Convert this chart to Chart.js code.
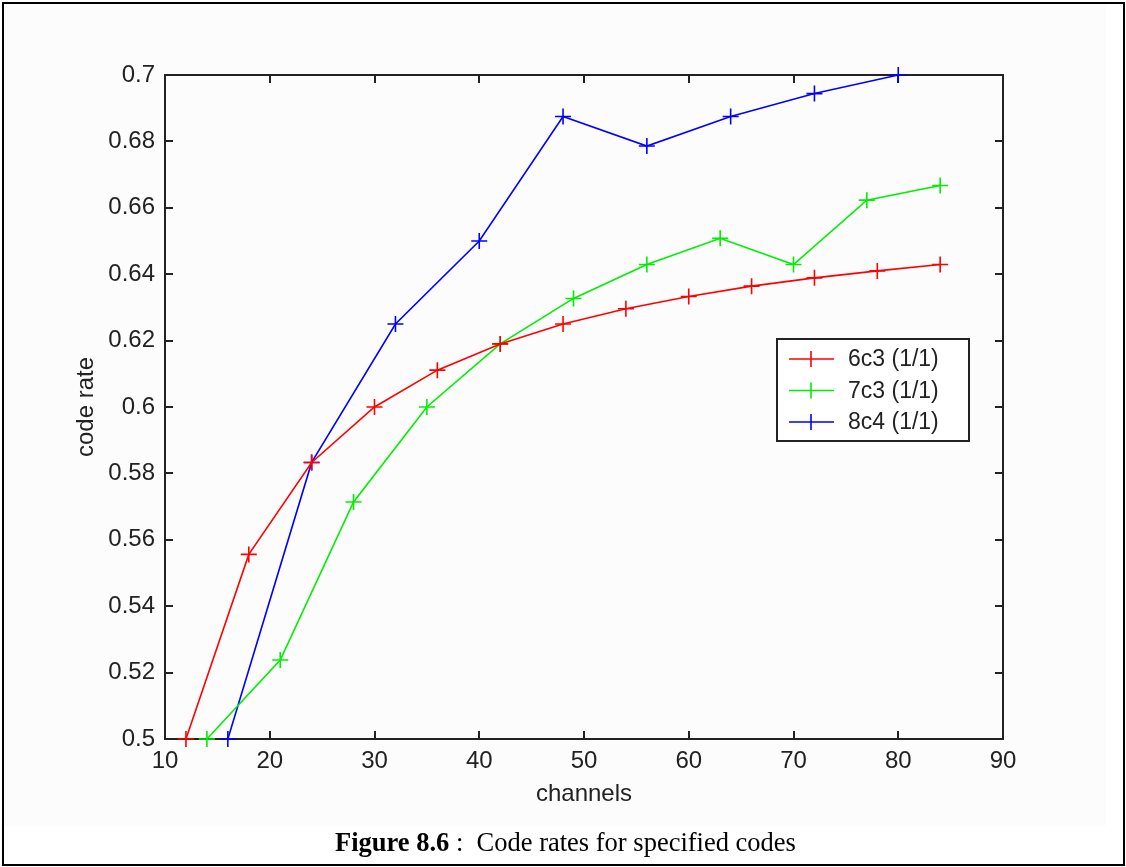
<!DOCTYPE html>
<html>
<head>
<meta charset="utf-8">
<title>Code rates for specified codes</title>
<script src="https://cdn.jsdelivr.net/npm/chart.js@4.4.1/dist/chart.umd.min.js"></script>
<style>
  html, body { margin: 0; padding: 0; background: #ffffff; }
  #page { position: relative; width: 1126px; height: 867px; overflow: hidden; }
  #figbg { position: absolute; left: 4px; top: 4px; width: 1102px; height: 822px; background: #fcfcfc; }
  #chart { position: absolute; left: 0; top: 0; }
  #frame { position: absolute; left: 2px; top: 2px; width: 1119px; height: 860px; border: 2px solid #000; pointer-events: none; }
  #caption { position: absolute; left: 335px; top: 826px; font-family: "Liberation Serif", "Times New Roman", serif;
             font-size: 26.5px; line-height: 32px; color: #000; white-space: pre; }
  #caption b { font-weight: bold; }
</style>
</head>
<body>
<div id="page">
  <div id="figbg"></div>
  <canvas id="chart" width="1126" height="867"></canvas>
  <div id="caption"><b>Figure 8.6</b> :  Code rates for specified codes</div>
  <div id="frame"></div>
</div>
<script>
// Channel counts and code rates for each code family
const channels6c3 = [12, 18, 24, 30, 36, 42, 48, 54, 60, 66, 72, 78, 84];
const rate6c3     = [0.5, 0.5556, 0.5833, 0.6, 0.6111, 0.619, 0.625, 0.6296, 0.6333, 0.6364, 0.6389, 0.641, 0.6429];

const channels7c3 = [14, 21, 28, 35, 42, 49, 56, 63, 70, 77, 84];
const rate7c3     = [0.5, 0.5238, 0.5714, 0.6, 0.619, 0.6327, 0.6429, 0.6508, 0.6429, 0.6623, 0.6667];

const channels8c4 = [16, 24, 32, 40, 48, 56, 64, 72, 80];
const rate8c4     = [0.5, 0.5833, 0.625, 0.65, 0.6875, 0.6786, 0.6875, 0.6944, 0.7];

const seriesNames = ['6c3 (1/1)', '7c3 (1/1)', '8c4 (1/1)'];
const xTicks = [10, 20, 30, 40, 50, 60, 70, 80, 90];
const yTicks = [0.5, 0.52, 0.54, 0.56, 0.58, 0.6, 0.62, 0.64, 0.66, 0.68, 0.7];
const xTitle = 'channels';
const yTitle = 'code rate';

const FONT = '"Liberation Sans", Arial, Helvetica, sans-serif';
const INK = '#222222';

function toPoints(xs, ys) {
  return xs.map((x, i) => ({ x: x, y: ys[i] }));
}

function series(label, xs, ys, color) {
  return {
    label: label,
    data: toPoints(xs, ys),
    borderColor: color,
    backgroundColor: color,
    borderWidth: 1.6,
    pointStyle: 'cross',
    pointRadius: 8,
    pointHoverRadius: 8,
    pointBorderWidth: 1.6,
    pointBorderColor: color,
    tension: 0,
    fill: false,
    clip: false
  };
}

// Axes box with inward ticks on all four sides, plus axis titles and legend
const boxPlugin = {
  id: 'matlabBox',
  beforeDatasetsDraw(chart) {
    const { ctx, chartArea: a, scales } = chart;
    const tl = 8;
    ctx.save();
    ctx.strokeStyle = INK;
    ctx.lineWidth = 2;
    ctx.strokeRect(a.left, a.top, a.right - a.left, a.bottom - a.top);
    ctx.beginPath();
    scales.x.ticks.forEach(t => {
      const px = Math.round(scales.x.getPixelForValue(t.value));
      if (px <= a.left + 1 || px >= a.right - 1) return;
      ctx.moveTo(px, a.bottom); ctx.lineTo(px, a.bottom - tl);
      ctx.moveTo(px, a.top);    ctx.lineTo(px, a.top + tl);
    });
    scales.y.ticks.forEach(t => {
      const py = Math.round(scales.y.getPixelForValue(t.value));
      if (py <= a.top + 1 || py >= a.bottom - 1) return;
      ctx.moveTo(a.left, py);  ctx.lineTo(a.left + tl, py);
      ctx.moveTo(a.right, py); ctx.lineTo(a.right - tl, py);
    });
    ctx.stroke();

    ctx.fillStyle = INK;
    ctx.font = '24px ' + FONT;
    ctx.textAlign = 'center';
    ctx.textBaseline = 'middle';
    ctx.fillText(xTitle, (a.left + a.right) / 2, 794);
    ctx.translate(86, (a.top + a.bottom) / 2);
    ctx.rotate(-Math.PI / 2);
    ctx.fillText(yTitle, 0, 0);
    ctx.restore();
  },
  afterDraw(chart) {
    const { ctx } = chart;
    const bx = 777, by = 339, bw = 192, bh = 102;
    ctx.save();
    ctx.fillStyle = '#ffffff';
    ctx.fillRect(bx, by, bw, bh);
    ctx.strokeStyle = INK;
    ctx.lineWidth = 2;
    ctx.strokeRect(bx, by, bw, bh);
    ctx.font = '23px ' + FONT;
    ctx.textBaseline = 'middle';
    ctx.textAlign = 'left';
    chart.data.datasets.forEach((ds, i) => {
      const cy = by + 20 + i * 31.5;
      ctx.strokeStyle = ds.borderColor;
      ctx.lineWidth = 1.6;
      ctx.beginPath();
      ctx.moveTo(789, cy); ctx.lineTo(834, cy);
      ctx.moveTo(811, cy - 8); ctx.lineTo(811, cy + 8);
      ctx.stroke();
      ctx.fillStyle = INK;
      ctx.fillText(ds.label, 848, cy + 1);
    });
    ctx.restore();
  }
};

new Chart(document.getElementById('chart'), {
  type: 'line',
  data: {
    datasets: [
      series(seriesNames[0], channels6c3, rate6c3, '#ff0000'),
      series(seriesNames[1], channels7c3, rate7c3, '#00ee00'),
      series(seriesNames[2], channels8c4, rate8c4, '#0000ff')
    ]
  },
  options: {
    responsive: false,
    animation: false,
    devicePixelRatio: 1,
    layout: { padding: { top: 75, right: 123, left: 0, bottom: 0 } },
    plugins: { legend: { display: false }, tooltip: { enabled: false } },
    scales: {
      x: {
        type: 'linear',
        min: xTicks[0],
        max: xTicks[xTicks.length - 1],
        afterBuildTicks: s => { s.ticks = xTicks.map(v => ({ value: v })); },
        afterFit: s => { s.height = 128; },
        grid: { display: false, drawTicks: false },
        border: { display: false },
        ticks: {
          callback: v => String(v),
          font: { family: FONT, size: 24 },
          color: INK,
          padding: 8,
          maxRotation: 0,
          autoSkip: false
        }
      },
      y: {
        type: 'linear',
        min: yTicks[0],
        max: yTicks[yTicks.length - 1],
        afterBuildTicks: s => { s.ticks = yTicks.map(v => ({ value: v })); },
        afterFit: s => { s.width = 165; },
        grid: { display: false, drawTicks: false },
        border: { display: false },
        ticks: {
          callback: v => String(v),
          font: { family: FONT, size: 24 },
          color: INK,
          padding: 10,
          autoSkip: false
        }
      }
    }
  },
  plugins: [boxPlugin]
});
</script>
</body>
</html>
